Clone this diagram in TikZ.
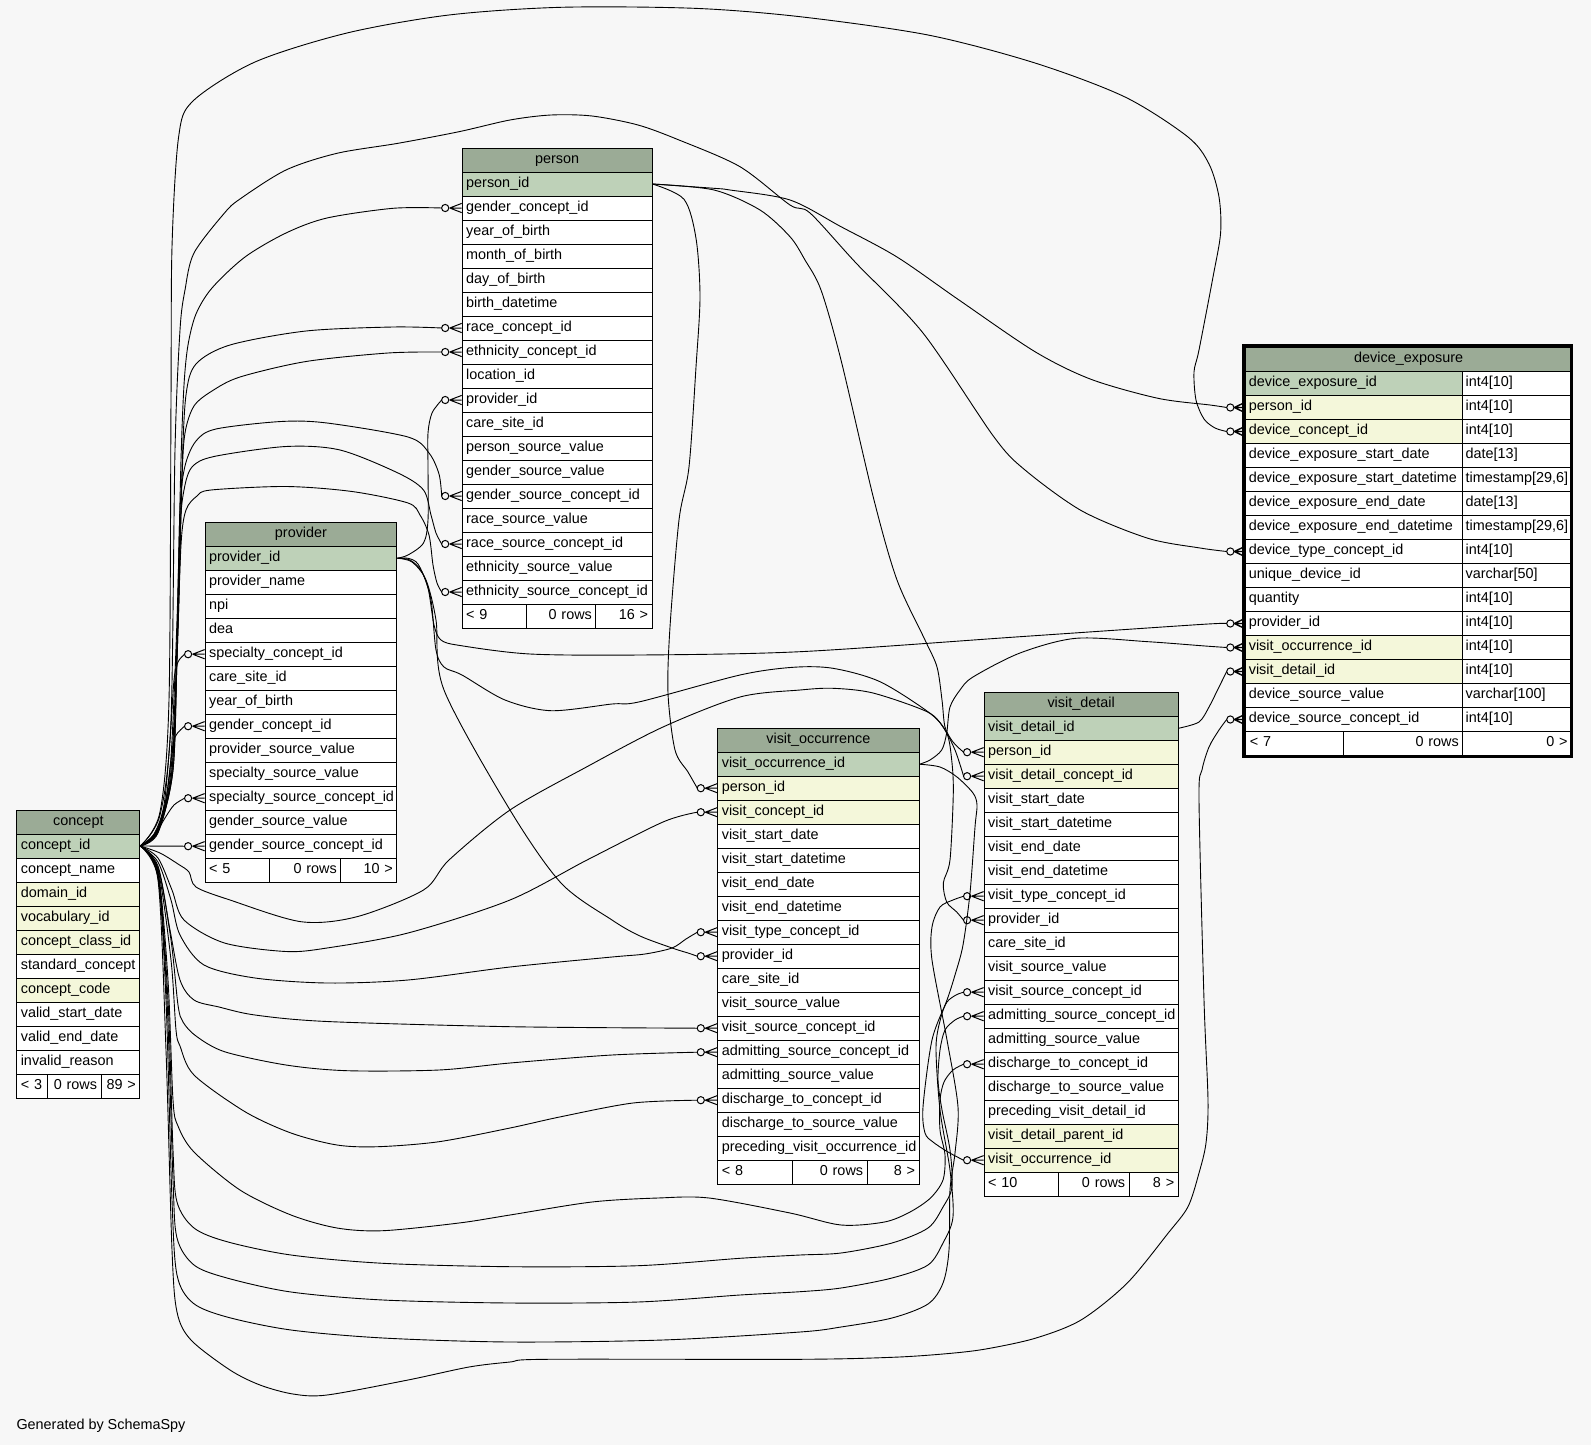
\documentclass[tikz,border=0pt]{standalone}
\usepackage{fontspec}
\setmainfont{Liberation Sans}
\definecolor{bgc}{HTML}{F7F7F7}
\definecolor{hd}{HTML}{9BAB96}
\definecolor{pk}{HTML}{BED1B8}
\definecolor{fk}{HTML}{F4F7DA}
\tikzset{
  thead/.style={draw, fill=hd, rectangle, anchor=north west, inner sep=0pt, minimum height=24pt, text height=9.5pt, text depth=3.5pt, line width=1pt},
  tcell/.style={draw, rectangle, anchor=north west, inner xsep=4pt, inner ysep=0pt, minimum height=24pt, text height=9.5pt, text depth=3.5pt, align=left, line width=1pt},
  tcellr/.style={tcell, align=right},
  fkedge/.style={draw, line width=0.9pt},
  fkmark/.style={draw, line width=1pt},
}
\newcommand\dbtab[6]{%
  \pgfmathsetmacro\tabw{#4}%
  \pgfmathsetmacro\tabtw{#4-8}%
  \node[thead, minimum width=\tabw pt] (#1h) at (#2,#3) {#5};%
  \foreach [count=\i] \rt/\rf in {#6} {%
    \node[tcell, fill=\rf, minimum width=\tabw pt, text width=\tabtw pt] (#1\i) at (#2,{#3+24*\i}) {\rt};%
  }%
}
\newcommand\dbfoot[9]{%
  \pgfmathsetmacro\fwa{#4-#2}\pgfmathsetmacro\fwb{#5-#4}\pgfmathsetmacro\fwc{#6-#5}%
  \pgfmathsetmacro\fta{#4-#2-8}\pgfmathsetmacro\ftb{#5-#4-8}\pgfmathsetmacro\ftc{#6-#5-8}%
  \node[tcell, fill=white, minimum width=\fwa pt, text width=\fta pt] (#1fa) at (#2,#3) {#7};%
  \node[tcellr, fill=white, minimum width=\fwb pt, text width=\ftb pt] (#1fb) at (#4,#3) {#8};%
  \node[tcellr, fill=white, minimum width=\fwc pt, text width=\ftc pt] (#1fc) at (#5,#3) {#9};%
}
\newcommand\zm[1]{%
  \coordinate (#1in) at ([xshift=-20pt]#1.west);
  \draw[fkmark] ([xshift=-16.5pt]#1.west) circle[radius=3.6pt];
  \draw[fkmark] ([xshift=-12pt]#1.west) -- ([yshift=4.6pt]#1.west)
                ([xshift=-12pt]#1.west) -- (#1.west)
                ([xshift=-12pt]#1.west) -- ([yshift=-4.6pt]#1.west);
}
\newcommand\zmd[1]{%
  \coordinate (#1in) at ([xshift=-18.6pt]#1.west);
  \draw[fkmark] ([xshift=-15pt]#1.west) circle[radius=3.6pt];
  \draw[fkmark,line width=1.4pt] ([xshift=-11pt]#1.west) -- ([xshift=-2pt,yshift=4.3pt]#1.west)
                ([xshift=-11pt]#1.west) -- ([xshift=-2pt]#1.west)
                ([xshift=-11pt]#1.west) -- ([xshift=-2pt,yshift=-4.3pt]#1.west);
}
\begin{document}
\begin{tikzpicture}[x=1pt,y=-1pt,font=\fontsize{14.4pt}{17pt}\selectfont]
\useasboundingbox (0,0) rectangle (1591,1445);
\fill[bgc] (0,0) rectangle (1591,1445);

% ---------------- tables ----------------
\dbtab{per}{461.7}{147.5}{189.8}{person}{person\_id/pk, gender\_concept\_id/white, year\_of\_birth/white, month\_of\_birth/white, day\_of\_birth/white, birth\_datetime/white, race\_concept\_id/white, ethnicity\_concept\_id/white, location\_id/white, provider\_id/white, care\_site\_id/white, person\_source\_value/white, gender\_source\_value/white, gender\_source\_concept\_id/white, race\_source\_value/white, race\_source\_concept\_id/white, ethnicity\_source\_value/white, ethnicity\_source\_concept\_id/white}
\dbfoot{per}{461.7}{603.5}{525.5}{595.4}{651.5}{< 9}{0 rows}{16 >}

\dbtab{prv}{204.6}{521.7}{191.8}{provider}{provider\_id/pk, provider\_name/white, npi/white, dea/white, specialty\_concept\_id/white, care\_site\_id/white, year\_of\_birth/white, gender\_concept\_id/white, provider\_source\_value/white, specialty\_source\_value/white, specialty\_source\_concept\_id/white, gender\_source\_value/white, gender\_source\_concept\_id/white}
\dbfoot{prv}{204.6}{857.7}{269.4}{340.3}{396.4}{< 5}{0 rows}{10 >}

\dbtab{con}{16.3}{809.5}{123}{concept}{concept\_id/pk, concept\_name/white, domain\_id/fk, vocabulary\_id/fk, concept\_class\_id/fk, standard\_concept/white, concept\_code/fk, valid\_start\_date/white, valid\_end\_date/white, invalid\_reason/white}
\dbfoot{con}{16.3}{1073.5}{47.4}{100.5}{139.3}{< 3}{0 rows}{89 >}

\dbtab{vo}{717.3}{727.7}{201.2}{visit\_occurrence}{visit\_occurrence\_id/pk, person\_id/fk, visit\_concept\_id/fk, visit\_start\_date/white, visit\_start\_datetime/white, visit\_end\_date/white, visit\_end\_datetime/white, visit\_type\_concept\_id/white, provider\_id/white, care\_site\_id/white, visit\_source\_value/white, visit\_source\_concept\_id/white, admitting\_source\_concept\_id/white, admitting\_source\_value/white, discharge\_to\_concept\_id/white, discharge\_to\_source\_value/white, preceding\_visit\_occurrence\_id/white}
\dbfoot{vo}{717.3}{1159.7}{791.5}{866.6}{918.5}{< 8}{0 rows}{8 >}

\dbtab{vd}{983.6}{691.7}{194.1}{visit\_detail}{visit\_detail\_id/pk, person\_id/fk, visit\_detail\_concept\_id/fk, visit\_start\_date/white, visit\_start\_datetime/white, visit\_end\_date/white, visit\_end\_datetime/white, visit\_type\_concept\_id/white, provider\_id/white, care\_site\_id/white, visit\_source\_value/white, visit\_source\_concept\_id/white, admitting\_source\_concept\_id/white, admitting\_source\_value/white, discharge\_to\_concept\_id/white, discharge\_to\_source\_value/white, preceding\_visit\_detail\_id/white, visit\_detail\_parent\_id/fk, visit\_occurrence\_id/fk}
\dbfoot{vd}{983.6}{1171.7}{1057.7}{1128.7}{1177.7}{< 10}{0 rows}{8 >}

% device_exposure (selected table, two columns)
\node[thead, minimum width=325.7pt] (deh) at (1245.3,347) {device\_exposure};
\foreach [count=\i] \rt/\rf/\ry in {device\_exposure\_id/pk/int4[10], person\_id/fk/int4[10], device\_concept\_id/fk/int4[10], device\_exposure\_start\_date/white/date[13], device\_exposure\_start\_datetime/white/{timestamp[29,6]}, device\_exposure\_end\_date/white/date[13], device\_exposure\_end\_datetime/white/{timestamp[29,6]}, device\_type\_concept\_id/white/int4[10], unique\_device\_id/white/varchar[50], quantity/white/int4[10], provider\_id/white/int4[10], visit\_occurrence\_id/fk/int4[10], visit\_detail\_id/fk/int4[10], device\_source\_value/white/varchar[100], device\_source\_concept\_id/white/int4[10]} {
  \node[tcell, inner xsep=3pt, fill=\rf, minimum width=216.9pt, text width=210.9pt] (deL\i) at (1245.3,{347+24*\i}) {\rt};
  \node[tcell, inner xsep=3pt, fill=white, minimum width=108.8pt, text width=102.8pt] (deR\i) at (1462.2,{347+24*\i}) {\ry};
}
\dbfoot{de}{1245.3}{731}{1342.7}{1462.2}{1571}{< 7}{0 rows}{0 >}
\draw[line width=3pt] (1243.8,345.5) rectangle (1571.8,756.3);

% ---------------- markers ----------------
\zm{per2}\zm{per7}\zm{per8}\zm{per10}\zm{per14}\zm{per16}\zm{per18}
\zm{prv5}\zm{prv8}\zm{prv11}\zm{prv13}
\zm{vo2}\zm{vo3}\zm{vo8}\zm{vo9}\zm{vo12}\zm{vo13}\zm{vo15}
\zm{vd2}\zm{vd3}\zm{vd8}\zm{vd9}\zm{vd12}\zm{vd13}\zm{vd15}\zm{vd19}
\zmd{deL2}\zmd{deL3}\zmd{deL8}\zmd{deL11}\zmd{deL12}\zmd{deL13}\zmd{deL15}

% ---------------- connectors ----------------
% concept -> person
\draw[fkedge] plot[smooth,tension=0.5] coordinates {(con1.east) (158,828) (170,770) (177,620) (181,460) (184,385) (188,345) (196,314) (212,288) (245,257) (286,233) (327,218) (393,208.3) (per2in)};
\draw[fkedge] plot[smooth,tension=0.5] coordinates {(con1.east) (158,829) (171,770) (178,620) (182,470) (186,395) (196,364) (230,345) (306,331) (393,327) (per7in)};
\draw[fkedge] plot[smooth,tension=0.5] coordinates {(con1.east) (158,830) (172,770) (178,630) (182,480) (185,433) (194,406) (212,391) (240,377) (306,361.5) (388,353) (per8in)};
\draw[fkedge] plot[smooth,tension=0.5] coordinates {(con1.east) (158,831) (172,770) (177,640) (180,510) (185,466) (196,441) (216,429) (281,421.5) (327,423) (408,437) (429,453) (439,474) (per14in)};
\draw[fkedge] plot[smooth,tension=0.5] coordinates {(con1.east) (158,832) (173,770) (177,650) (180,530) (184,490) (192,467) (214,456.5) (286,446.5) (340,450) (398,473) (423.5,490) (431,515) (436,533) (per16in)};
\draw[fkedge] plot[smooth,tension=0.5] coordinates {(con1.east) (158,833) (173,770) (177,660) (181,545) (186,510) (197,496) (211,490) (286,486.5) (352,491.5) (408,503) (420,515) (429,535) (433,565) (437,583) (per18in)};
% concept -> provider
\draw[fkedge] plot[smooth,tension=0.5] coordinates {(con1.east) (154,834) (164,805) (170,740) (174,680) (178,662) (prv5in)};
\draw[fkedge] plot[smooth,tension=0.5] coordinates {(con1.east) (155,834) (165,805) (171,760) (175,737) (prv8in)};
\draw[fkedge] plot[smooth,tension=0.5] coordinates {(con1.east) (154,836) (165,818) (174,805) (prv11in)};
\draw[fkedge] (con1.east) -- (prv13in);
% concept -> visit_occurrence
\draw[fkedge] plot[smooth,tension=0.5] coordinates {(con1.east) (158,858) (172,890) (184,920) (224.5,943) (286,951.5) (327,948) (408,933) (510,900) (587,860) (663,822) (vo3in)};
\draw[fkedge] plot[smooth,tension=0.5] coordinates {(con1.east) (158,862) (171,900) (180,935) (204,965) (255,978) (327,983) (408,980) (510,967) (612,957) (645,954) (672,948) (686,939) (vo8in)};
\draw[fkedge] plot[smooth,tension=0.5] coordinates {(con1.east) (158,866) (170,930) (180,980) (194,1000) (219,1007) (255,1015) (327,1021.5) (510,1026.7) (vo12in)};
\draw[fkedge] plot[smooth,tension=0.5] coordinates {(con1.east) (158,868) (171,940) (178,1005) (183,1022) (196,1036) (224.5,1051.7) (286,1065) (347,1070.7) (439,1070) (510,1063) (612,1055) (vo13in)};
\draw[fkedge] plot[smooth,tension=0.5] coordinates {(con1.east) (158,870) (171,960) (176,1030) (180,1046) (194,1075) (245,1111.7) (291,1133) (337,1145) (378,1146.7) (439,1141.7) (510,1128) (561,1116.7) (633,1103) (vo15in)};
% concept -> visit_detail
\draw[fkedge] plot[smooth,tension=0.5] coordinates {(con1.east) (160,853) (178,864) (189,872) (196,887) (230,900) (301,921.7) (357,916.7) (423.5,890) (449,860) (510,810) (587,766.7) (663,727) (740,697) (800,690) (833,688.3) (873,693) (927,711.7) (943,727) (955,750) (vd3in)};
\draw[fkedge] plot[smooth,tension=0.5] coordinates {(con1.east) (158,872) (168,980) (173,1100) (178,1126) (194,1152) (240,1190) (291,1215) (337,1228) (383,1230.7) (459,1223) (510,1215) (592,1202) (658,1198) (709,1198) (790,1213) (841,1225) (884.5,1222) (910,1212) (930.5,1198) (943,1180) (945,1155) (940,1130) (940,1100) (944,1082) (953,1070) (vd15in)};
\draw[fkedge] plot[smooth,tension=0.5] coordinates {(con1.east) (158,874) (168,1000) (173,1150) (177,1202) (194,1228) (227,1241.7) (291,1255) (383,1263.3) (510,1266.7) (638,1265.7) (740,1258.3) (800,1255) (841,1253) (892,1243) (928,1228) (943,1207) (952,1187) (950,1150) (942,1110) (938,1080) (940,1050) (945,1030) (955,1020) (vd13in)};
\draw[fkedge] plot[smooth,tension=0.5] coordinates {(con1.east) (158,876) (167,1000) (173,1180) (177,1238) (194,1265) (227,1278) (291,1292) (383,1300) (510,1303) (638,1302) (740,1295) (800,1291.7) (841,1288) (892,1278) (928,1265) (943,1243) (953,1217) (950,1170) (940,1110) (936,1047) (941,1017) (947,1002) (956,995) (vd12in)};
\draw[fkedge] plot[smooth,tension=0.5] coordinates {(con1.east) (158,878) (166,1000) (172,1200) (177,1275) (193,1303) (227,1317) (291,1330) (383,1338) (510,1342) (663,1340) (800,1332) (841,1327) (892,1318) (928,1304) (943,1283) (949,1250) (950,1190) (955,1153) (958,1107) (947,1040) (932,960) (932,927) (940,907) (953,900) (vd8in)};
% concept -> device_exposure
\draw[fkedge] plot[smooth,tension=0.5] coordinates {(con1.east) (158,880) (166,1050) (172,1250) (177,1312) (191,1340) (230,1370) (260,1385) (293,1394) (327,1395) (408,1380) (469,1367) (510,1362) (546,1359.3) (800,1359.3) (892,1357.3) (943,1354) (984,1349.3) (1035,1338.3) (1081,1320) (1127,1283.3) (1168,1233.3) (1188,1206.7) (1199,1173) (1206,1143) (1208,1100) (1204,1000) (1199,800) (1202,770) (1209,747) (1219,730) (deL15in)};
\draw[fkedge] plot[smooth,tension=0.5] coordinates {(con1.east) (160,812) (169,700) (171,400) (172,247) (178.6,137) (193,101) (255,62) (347,33) (449,15) (561,7.3) (694,8.3) (800,16.7) (928,35) (1035,63) (1125,97) (1188,137) (1209,164) (1219,197) (1220.6,233) (1213,277) (1199,350) (1194,372) (1196,400) (1204,419) (1215,428) (deL3in)};
\draw[fkedge] plot[smooth,tension=0.5] coordinates {(con1.east) (160,815) (171,720) (175,450) (180,330) (185,290) (194,253) (224.5,213) (240,199) (286,170) (337,153.3) (398,143.3) (459,131.7) (510,120) (551,115) (592,116) (638,125) (679,140) (740,166.7) (790,205) (810,213) (856,263) (923,333) (994,437) (1025,470) (1082,511) (1148,538.3) (1200,548) (deL8in)};
% person -> others
\draw[fkedge] plot[smooth,tension=0.5] coordinates {(per1.east) (714,188.3) (730,190) (790,200) (841,226.7) (897,257) (959,300) (1035,351.7) (1091,379.3) (1158,398.3) (1210,405) (deL2in)};
\draw[fkedge] plot[smooth,tension=0.5] coordinates {(per1.east) (714,190) (760,210) (790,236.7) (805,260) (821,290) (841,360) (874,500) (897,580) (925,640) (937,667) (942,700) (945,727) (953,742) (vd2in)};
\draw[fkedge] plot[smooth,tension=0.5] coordinates {(per1.east) (684,199.3) (696,238.3) (700,296.7) (696,367) (689,467) (679,520) (670,627) (668,693) (675,750) (688,772) (vo2in)};
% provider -> others
\draw[fkedge] plot[smooth,tension=0.5] coordinates {(prv1.east) (408,555) (423.5,543) (428,520) (428,467) (428,433) (432,413) (per10in)};
\draw[fkedge] plot[smooth,tension=0.5] coordinates {(prv1.east) (408,558.3) (418,564) (428,588) (434,625) (441,640) (460,645.5) (530,654) (640,655) (800,651.7) (1020,636.7) (1200,624.5) (deL11in)};
\draw[fkedge] plot[smooth,tension=0.5] coordinates {(prv1.east) (410,560) (422,572) (431,600) (436,650) (444,667) (462,675) (505,700) (551,710.7) (612,704) (640,701.7) (740,675) (793,667.3) (833,668.3) (880,681.7) (930,713.3) (946.7,733) (951.7,760) (953.3,793) (950,860) (943.3,883) (946.7,902) (956.7,912) (vd9in)};
\draw[fkedge] plot[smooth,tension=0.5] coordinates {(prv1.east) (412,562) (426,580) (436,620) (444,690) (510,810) (561,883) (612,920) (640,936) (673,948.3) (688,953) (vo9in)};
% visit_occurrence -> others
\draw[fkedge] plot[smooth,tension=0.5] coordinates {(vo1.east) (930,760) (941.7,750) (946.7,733) (950,707) (960,690) (973,677) (1020,653) (1076,638.3) (1148,641.7) (1205,646) (deL12in)};
\draw[fkedge] plot[smooth,tension=0.5] coordinates {(vo1.east) (940,767) (957,777) (973,793) (977,805) (975,827) (970,893) (963,945) (955,975) (947,1000) (932,1040) (923,1107) (925,1133) (933,1142) (948,1152) (vd19in)};
% visit_detail -> device_exposure
\draw[fkedge] plot[smooth,tension=0.5] coordinates {(vd1.east) (1199,722) (1209,707) (1219,687) (deL13in)};

\node[anchor=base west, inner sep=0pt] (gen) at (16.3,1429.5) {Generated by SchemaSpy};
\end{tikzpicture}
\end{document}
